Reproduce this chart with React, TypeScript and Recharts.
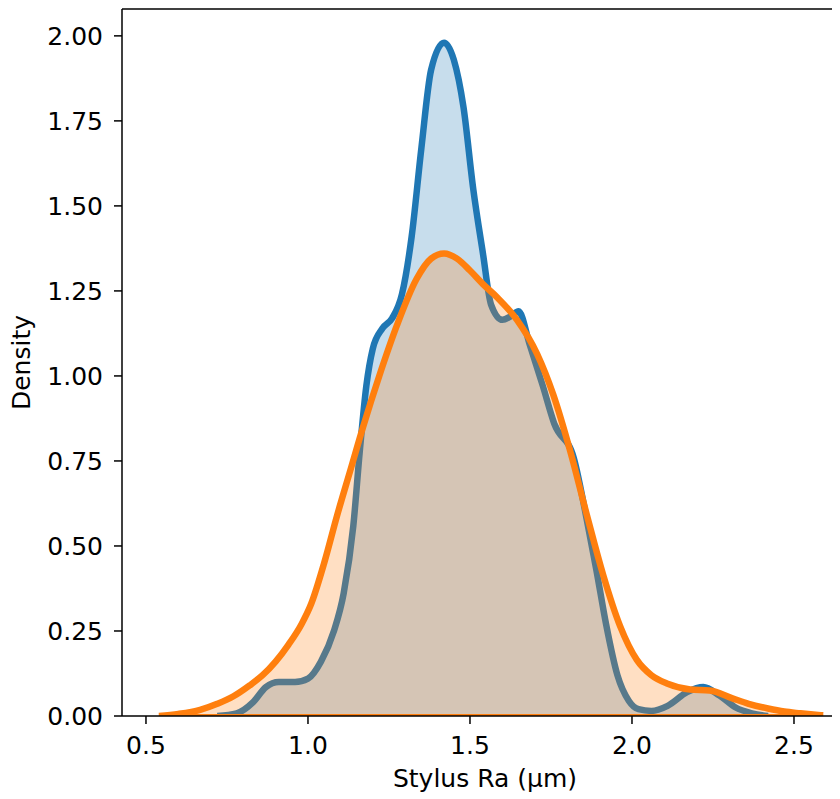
import React from 'react';
import {
  ComposedChart,
  Area,
  Line,
  XAxis,
  YAxis,
  ReferenceLine,
} from 'recharts';

// KDE curve for the first group (blue)
const blueX = [
  0.72, 0.78, 0.83, 0.87, 0.91, 0.96, 1.0, 1.04, 1.08, 1.11, 1.14, 1.16, 1.18, 1.2,
  1.23, 1.26, 1.29, 1.32, 1.35, 1.38, 1.42, 1.45, 1.48, 1.51, 1.54, 1.565, 1.6,
  1.625, 1.65, 1.685, 1.725, 1.76, 1.82, 1.86, 1.89, 1.92, 1.955, 1.99, 2.02, 2.06,
  2.11, 2.17, 2.22, 2.27, 2.32, 2.37, 2.42,
];
const blueY = [
  0.0, 0.008, 0.04, 0.085, 0.1, 0.1, 0.11, 0.16, 0.25, 0.36, 0.56, 0.78, 0.97, 1.08,
  1.14, 1.17, 1.24, 1.41, 1.67, 1.9, 1.98, 1.93, 1.79, 1.55, 1.36, 1.21, 1.165,
  1.175, 1.19, 1.09, 0.97, 0.86, 0.76, 0.58, 0.43, 0.27, 0.12, 0.045, 0.02, 0.015,
  0.03, 0.07, 0.085, 0.06, 0.025, 0.008, 0.0,
];

// KDE curve for the second group (orange)
const orangeX = [
  0.54, 0.6, 0.667, 0.72, 0.77, 0.82, 0.86, 0.9, 0.94, 0.98, 1.01, 1.05, 1.09, 1.13,
  1.17, 1.22, 1.275, 1.335, 1.38, 1.42, 1.46, 1.5, 1.54, 1.585, 1.645, 1.707, 1.757,
  1.809, 1.861, 1.911, 1.963, 2.015, 2.06, 2.11, 2.18, 2.24, 2.31, 2.36, 2.42, 2.47,
  2.52, 2.59,
];
const orangeY = [
  0.0, 0.006, 0.018, 0.036, 0.058, 0.09, 0.12, 0.16, 0.21, 0.27, 0.33, 0.45, 0.59,
  0.72, 0.85, 1.0, 1.15, 1.285, 1.345, 1.36, 1.345, 1.31, 1.27, 1.23, 1.165, 1.065,
  0.945, 0.78, 0.59, 0.415, 0.265, 0.165, 0.12, 0.095, 0.078, 0.075, 0.052, 0.036,
  0.022, 0.013, 0.008, 0.002,
];

const xTicks = [0.5, 1.0, 1.5, 2.0, 2.5];
const yTicks = [0, 0.25, 0.5, 0.75, 1.0, 1.25, 1.5, 1.75, 2.0];
const xDomain = [0.426, 2.642];
const yDomain = [0, 2.079];

const blueData = blueX.map((x, i) => ({ x, y: blueY[i] }));
const orangeData = orangeX.map((x, i) => ({ x, y: orangeY[i] }));
const orangeBase = [
  { x: orangeX[0], y: 0 },
  { x: orangeX[orangeX.length - 1], y: 0 },
];

const FONT = 'DejaVu Sans';
const tickStyle = { fontSize: 25, fill: '#000', fontFamily: FONT };

const DensityLabel = (props: any) => {
  const vb = props.viewBox || { x: 0, y: 0, width: 0, height: 0 };
  const x = vb.x + 22;
  const y = vb.y + vb.height / 2;
  return (
    <text
      x={x}
      y={y}
      transform={`rotate(-90 ${x} ${y})`}
      textAnchor="middle"
      fontSize={25}
      fontFamily={FONT}
      fill="#000"
    >
      Density
    </text>
  );
};

export default function App() {
  return (
    <ComposedChart
      width={832}
      height={790}
      margin={{ top: 1, right: 0, bottom: 0, left: 0 }}
    >
      <XAxis
        type="number"
        dataKey="x"
        domain={xDomain}
        ticks={xTicks}
        tickFormatter={(v: number) => v.toFixed(1)}
        allowDataOverflow
        height={82}
        tickSize={8}
        tickMargin={12}
        tick={tickStyle}
        axisLine={{ stroke: '#000', strokeWidth: 1.5 }}
        tickLine={{ stroke: '#000', strokeWidth: 1.5 }}
        label={{
          value: 'Stylus Ra (µm)',
          position: 'insideBottom',
          offset: 11,
          dx: 4,
          style: { fontSize: 25, fill: '#000', fontFamily: FONT },
        }}
      />
      <YAxis
        type="number"
        dataKey="y"
        domain={yDomain}
        ticks={yTicks}
        tickFormatter={(v: number) => v.toFixed(2)}
        allowDataOverflow
        width={114}
        tickSize={8}
        tickMargin={11}
        tick={tickStyle}
        axisLine={{ stroke: '#000', strokeWidth: 1.5 }}
        tickLine={{ stroke: '#000', strokeWidth: 1.5 }}
        label={(p: any) => <DensityLabel {...p} />}
      />
      <ReferenceLine y={yDomain[1]} stroke="#000" strokeWidth={1.5} />
      <Area
        data={blueData}
        dataKey="y"
        type="monotone"
        stroke="#1f77b4"
        strokeWidth={6.5}
        fill="#1f77b4"
        fillOpacity={0.25}
        isAnimationActive={false}
        dot={false}
        activeDot={false}
      />
      <Area
        data={orangeData}
        dataKey="y"
        type="monotone"
        stroke="#ff7f0e"
        strokeWidth={6.5}
        fill="#ff7f0e"
        fillOpacity={0.25}
        isAnimationActive={false}
        dot={false}
        activeDot={false}
      />
      <Line
        data={orangeBase}
        dataKey="y"
        stroke="#ff7f0e"
        strokeWidth={4}
        dot={false}
        activeDot={false}
        isAnimationActive={false}
      />
    </ComposedChart>
  );
}
